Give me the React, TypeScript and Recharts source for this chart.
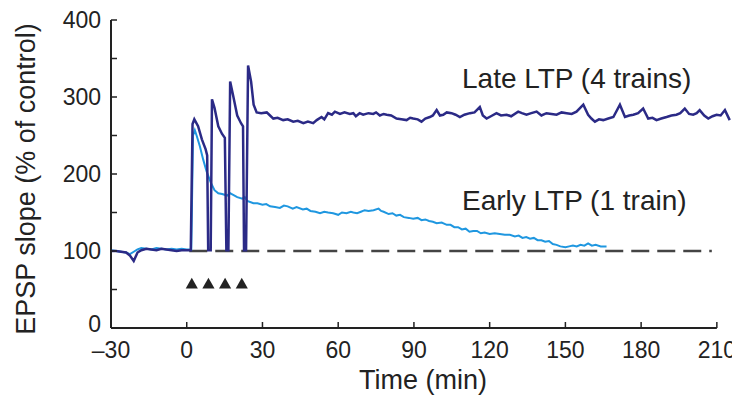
import { ComposedChart, Line, Scatter, XAxis, YAxis, ReferenceLine } from 'recharts';

// time (min) vs EPSP slope (% of control)
const lateLtp: [number, number][] = [
    [-30, 100], [-28, 100], [-26, 99], [-24, 98], [-22.5, 94], [-21, 87], [-19.5, 98], [-18, 101],
    [-16, 103], [-14, 102], [-12, 101], [-10, 103], [-8, 102], [-6, 101], [-4, 100], [-2, 101],
    [0, 101], [1.6, 101],
    [2.3, 265], [3, 271], [4.5, 262], [6, 245], [7.5, 232], [8.1, 224], [8.5, 101], [9.5, 101],
    [10, 297], [11, 286], [12.5, 262], [14, 252], [15.1, 247], [15.7, 101], [16.5, 101],
    [17.2, 320], [18.5, 300], [20, 276], [21.5, 266], [22.3, 262], [22.7, 101], [23.5, 101],
    [24.3, 341], [25.5, 320], [26.5, 290], [27.7, 280], [29.5, 279], [31.7, 280], [33, 276],
    [34.3, 272], [36, 273], [38.2, 270], [40, 271], [42.2, 268], [44, 269], [46.2, 266], [48, 268],
    [50.1, 266], [51.5, 270], [53.4, 274], [54.5, 271], [56, 279], [57.5, 277], [58.7, 281],
    [60.7, 278], [62.5, 280], [64.6, 278], [66, 279], [67, 275], [68.5, 279], [69.9, 277],
    [72, 279], [73.9, 278], [75, 280], [76.5, 276], [78, 278], [79.2, 277], [81, 276],
    [83.1, 272], [85, 271], [87.1, 270], [88.5, 273], [89.7, 272], [91.5, 271], [93, 268],
    [94.5, 272], [96.3, 274], [97.5, 276], [99, 283], [100.3, 276], [101.6, 277], [103, 280],
    [104.9, 279], [106.5, 277], [108.2, 274], [110, 277], [112.2, 279], [114, 280], [116.1, 287],
    [117.3, 276], [118.8, 272], [120.5, 275], [122.7, 279], [124.5, 276], [126.7, 277],
    [128.5, 275], [131.3, 281], [132.8, 279], [134.6, 277], [136.5, 279], [138.6, 281],
    [140.5, 276], [142.5, 279], [144.5, 278], [146.5, 277], [148.5, 280], [150.5, 279],
    [152.5, 278], [154.4, 281], [157.1, 290], [159, 277], [160.3, 272], [161.7, 268], [163.3, 271],
    [165, 270], [167, 272], [169, 274], [171.6, 290], [173.6, 274], [175.3, 276], [176.9, 277],
    [178.8, 279], [180.8, 285], [182.8, 272], [184.5, 273], [186.1, 270], [188, 272], [190.1, 274],
    [192, 276], [194, 277], [195.5, 279], [197.3, 285], [199, 278], [200.6, 277], [202, 279],
    [203.2, 283], [205, 276], [206.6, 272], [208.3, 275], [209.9, 277], [211.5, 276], [213.2, 283],
    [215.1, 270],
];

const earlyLtp: [number, number][] = [
    [-30, 101], [-28, 100], [-26, 99], [-24, 98], [-22.5, 96], [-21, 99], [-19.5, 102], [-18, 104],
    [-16, 103], [-14, 102], [-12, 104], [-10, 103], [-8, 102], [-6, 103], [-4, 102], [-2, 103],
    [0, 102], [1.8, 102], [2.5, 250], [3.2, 257], [4, 249], [5.2, 236], [6.5, 219], [7.9, 203],
    [9.5, 189], [11, 179], [12.5, 175], [14, 174], [16, 172], [17.2, 175], [18.4, 173], [20, 170],
    [22, 168], [23, 170], [24, 165], [26.4, 162], [28, 162], [30, 160], [31.5, 161], [33, 158],
    [35, 157], [36.9, 156], [38.5, 159], [40, 158], [42, 155], [43.5, 157], [46, 154], [47.5, 155],
    [49, 152], [51, 151], [52.8, 149], [54.5, 151], [56, 150], [58, 149], [60, 147], [61.5, 150],
    [63.3, 149], [65, 151], [66, 150], [67.5, 149], [69, 151], [70.5, 153], [72, 152], [74, 153],
    [76, 155], [77, 152], [78, 151], [80, 148], [81.5, 149], [83, 146], [84.5, 147], [86, 144],
    [88, 143], [89.7, 142], [91.5, 143], [93, 140], [94.5, 141], [96, 139], [97.5, 138], [99, 136],
    [101, 137], [103, 134], [104.5, 134], [106, 131], [107.5, 131], [109, 128], [110.5, 129],
    [112, 125], [113.5, 126], [115, 126], [116.5, 123], [118, 124], [120, 122], [122, 123],
    [124, 122], [126, 121], [128, 121], [130, 119], [131.5, 120], [133, 117], [134.5, 118],
    [136, 116], [137.5, 117], [139, 114], [140.5, 114], [142, 112], [143.5, 113], [145, 109],
    [146.5, 108], [148, 106], [150, 105], [151.5, 106], [153, 107], [154.5, 106], [156, 108],
    [157.5, 107], [159, 110], [160.5, 107], [162, 108], [164, 106], [166.3, 106],
];

const trainTimes = [2, 8.6, 15.2, 21.8];
const trainMarkY = 56;

const xTicks = [-30, 0, 30, 60, 90, 120, 150, 180, 210];
const yTicks = [0, 50, 100, 150, 200, 250, 300, 350, 400];

const toPoints = (rows: [number, number][]) => rows.map(([t, v]) => ({ t, v }));

const INK = '#222';

// y labels only every 100; the 0 sits a touch above the axis like the original
const YTick = ({ x, y, payload }: any) => {
    const v = payload.value as number;
    if (v % 100 !== 0) return null;
    return (
        <text x={x} y={v === 0 ? y - 4 : y} dy="0.355em" textAnchor="end" fontSize={23} fill={INK}>
            {v}
        </text>
    );
};

export default function App() {
    const late = toPoints(lateLtp);
    const early = toPoints(earlyLtp);
    const trains = trainTimes.map((t) => ({ t, v: trainMarkY }));

    return (
        <div style={{ width: 732, height: 388, fontFamily: '"Liberation Sans", Arial, sans-serif' }}>
            <ComposedChart width={732} height={388} margin={{ top: 12, right: 8, bottom: 0, left: 0 }}>
                <XAxis
                    type="number"
                    dataKey="t"
                    domain={[-30, 216]}
                    ticks={xTicks}
                    height={68}
                    axisLine={false}
                    tickSize={-6}
                    tickMargin={20}
                    tickLine={{ stroke: INK, strokeWidth: 1.5 }}
                    tick={{ fill: INK, fontSize: 23 }}
                    tickFormatter={(v: number) => (v < 0 ? `\u2013${-v}` : String(v))}
                />
                <YAxis
                    type="number"
                    dataKey="v"
                    domain={[0, 400]}
                    ticks={yTicks}
                    width={103}
                    tickSize={-6}
                    tickMargin={16}
                    axisLine={{ stroke: INK, strokeWidth: 2 }}
                    tickLine={{ stroke: INK, strokeWidth: 1.5 }}
                    tick={YTick}
                />
                <ReferenceLine segment={[{ x: -30, y: 0 }, { x: 210, y: 0 }]} stroke={INK} strokeWidth={2} />
                <ReferenceLine
                    segment={[{ x: 1, y: 100 }, { x: 208, y: 100 }]}
                    stroke="#444"
                    strokeWidth={2.5}
                    strokeDasharray="18 8"
                />
                <Line
                    data={early}
                    dataKey="v"
                    type="linear"
                    stroke="#1f97e0"
                    strokeWidth={2}
                    dot={false}
                    isAnimationActive={false}
                />
                <Line
                    data={late}
                    dataKey="v"
                    type="linear"
                    stroke="#2b2a86"
                    strokeWidth={2.5}
                    dot={false}
                    isAnimationActive={false}
                />
                <Scatter data={trains} dataKey="v" shape="triangle" fill={INK} isAnimationActive={false} />
                <text x={27} y={171} transform="rotate(-90, 27, 171)" textAnchor="middle" fontSize={27} fill={INK}>
                    EPSP slope (% of control)
                </text>
                <text x={415} y={381} textAnchor="middle" fontSize={27} fill={INK}>
                    Time (min)
                </text>
                <text x={454} y={80} fontSize={28} fill={INK}>
                    Late LTP (4 trains)
                </text>
                <text x={454} y={202} fontSize={28} fill={INK}>
                    Early LTP (1 train)
                </text>
            </ComposedChart>
        </div>
    );
}
